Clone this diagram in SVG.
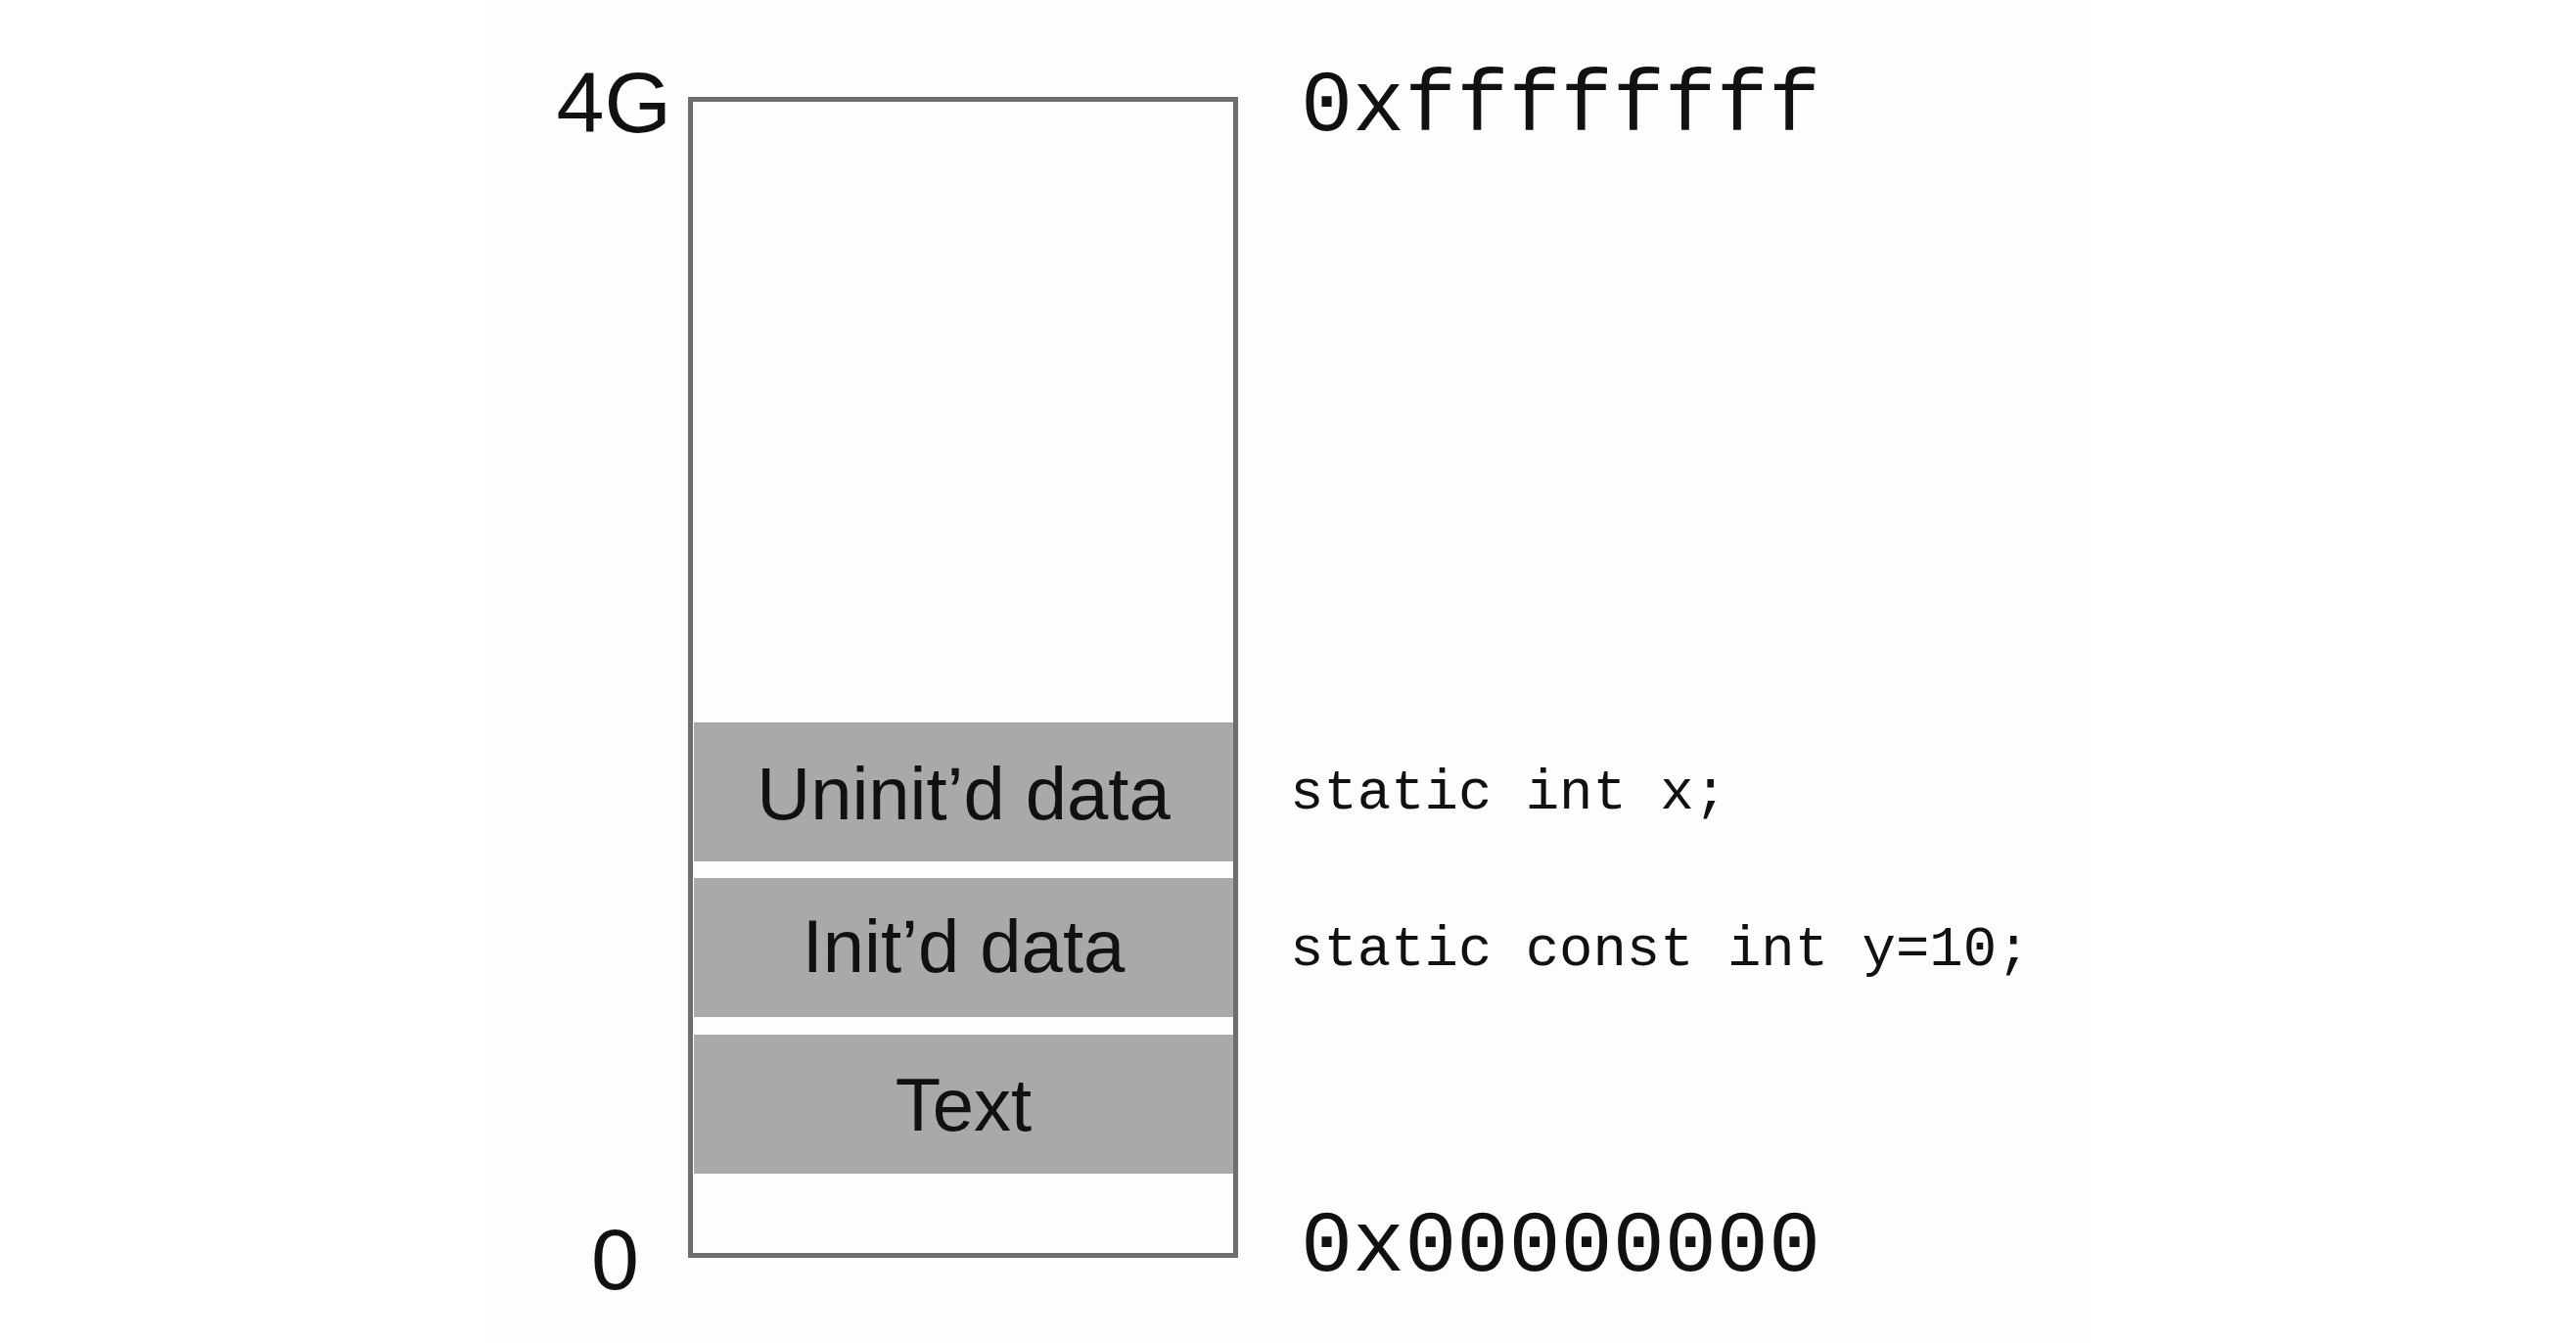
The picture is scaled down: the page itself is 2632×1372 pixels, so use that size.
<svg xmlns="http://www.w3.org/2000/svg" width="2632" height="1372" viewBox="0 0 2632 1372">
<style>
.sans{font-family:"Liberation Sans",Arial,sans-serif;fill:#111;}
.mono{font-family:"Liberation Mono","Courier New",monospace;fill:#111;}
.band{fill:#a9a9a9;}
.frame{fill:none;stroke:#6e6e6e;stroke-width:5;}
</style>
<rect x="0" y="0" width="2632" height="1372" fill="#ffffff"/>
<rect x="497" y="0" width="1635" height="1372" fill="#fdfdfd"/>
<g id="memory">
  <rect class="frame" x="705.5" y="101.5" width="557" height="1181"/>
</g>
<g id="uninit">
  <rect class="band" x="709" y="738" width="551" height="142"/>
  <text class="sans" x="984.5" y="837" font-size="76" text-anchor="middle">Uninit’d data</text>
</g>
<g id="init">
  <rect class="band" x="709" y="897" width="551" height="142"/>
  <text class="sans" x="984.5" y="993" font-size="76" text-anchor="middle">Init’d data</text>
</g>
<g id="text">
  <rect class="band" x="709" y="1057" width="551" height="142"/>
  <text class="sans" x="984.5" y="1155" font-size="76" text-anchor="middle">Text</text>
</g>
<g id="labels">
  <text class="sans" x="686" y="135" font-size="88" text-anchor="end">4G</text>
  <text class="sans" x="653" y="1317" font-size="88" text-anchor="end">0</text>
  <text class="mono" x="1329" y="133" font-size="88.5">0xffffffff</text>
  <text class="mono" x="1329" y="1298" font-size="88.5">0x00000000</text>
  <text class="mono" x="1318" y="826" font-size="57.3">static int x;</text>
  <text class="mono" x="1318" y="986" font-size="57.3">static const int y=10;</text>
</g>
<g id="connectors"></g>
</svg>
